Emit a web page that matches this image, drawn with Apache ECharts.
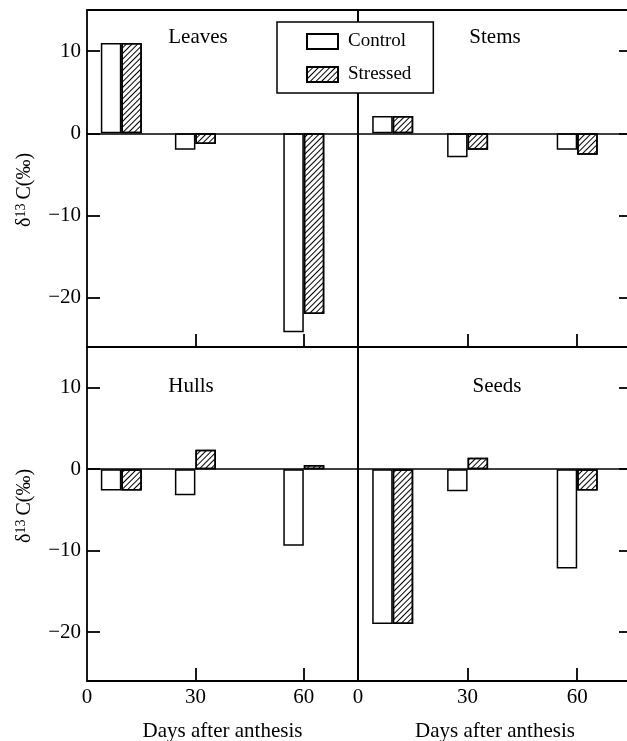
<!DOCTYPE html>
<html>
<head>
<meta charset="utf-8">
<script src="https://cdn.jsdelivr.net/npm/echarts@6/dist/echarts.min.js"></script>
<style>
  html, body { margin: 0; padding: 0; background: #fff; }
  #chart { width: 627px; height: 741px; }
</style>
</head>
<body>
<div id="chart"></div>
<script>
  // days after anthesis (first sampling drawn a little before day 10)
  const days = [9.5, 30, 60];
  // delta 13C, per organ
  const leavesControl = [11, -2.0, -24.2];
  const leavesStressed = [11, -1.3, -22.0];
  const stemsControl = [2.1, -2.9, -2.0];
  const stemsStressed = [2.1, -2.0, -2.6];
  const hullsControl = [-2.6, -3.2, -9.4];
  const hullsStressed = [-2.6, 2.4, 0.5];
  const seedsControl = [-19.0, -2.7, -12.2];
  const seedsStressed = [-19.0, 1.4, -2.6];

  const panelNames = ['Leaves', 'Stems', 'Hulls', 'Seeds'];
  const xLabels = [0, 30, 60];
  const xTickMarks = [30, 60];
  const yLabels = [-20, -10, 0, 10];

  const FONT = 'Liberation Serif';

  const controlData = [leavesControl, stemsControl, hullsControl, seedsControl];
  const stressedData = [leavesStressed, stemsStressed, hullsStressed, seedsStressed];

  let chart = echarts.init(document.getElementById('chart'));

  // 2x2 panels
  const grids = [
    {left: 87, top: 10, width: 271, height: 337},
    {left: 358, top: 10, width: 274, height: 337},
    {left: 87, top: 347, width: 271, height: 334},
    {left: 358, top: 347, width: 274, height: 334}
  ].map(g => Object.assign(g, {
    show: true, borderColor: '#000', borderWidth: 1.8, backgroundColor: 'transparent',
    containLabel: false, outerBoundsMode: 'none'
  }));

  const xAxes = [];
  const yAxes = [];
  const series = [];

  for (let i = 0; i < 4; i++) {
    const bottomRow = i >= 2;
    const rightCol = i % 2 === 1;
    xAxes.push({
      gridIndex: i,
      type: 'value',
      min: 0,
      max: 75,
      position: 'bottom',
      axisLine: {show: false, onZero: false},
      splitLine: {show: false},
      axisTick: {show: true, inside: true, length: 13, customValues: xTickMarks, lineStyle: {color: '#000', width: 1.8}},
      axisLabel: {
        show: bottomRow, customValues: xLabels, margin: 6,
        fontFamily: FONT, fontSize: 21, color: '#000'
      },
      name: bottomRow ? 'Days after anthesis' : '',
      nameLocation: 'middle',
      nameGap: 40,
      nameTextStyle: {fontFamily: FONT, fontSize: 21, color: '#000'}
    });
    yAxes.push({
      gridIndex: i,
      type: 'value',
      min: -26,
      max: 15,
      position: rightCol ? 'right' : 'left',
      axisLine: {show: false, onZero: false},
      splitLine: {show: false},
      axisTick: {show: true, inside: true, length: 13, customValues: yLabels, lineStyle: {color: '#000', width: 1.8}},
      axisLabel: {
        show: !rightCol, customValues: yLabels, margin: 6,
        fontFamily: FONT, fontSize: 21, color: '#000',
        formatter: v => (v < 0 ? '\u2212' + Math.abs(v) : String(v))
      }
    });
    series.push({
      name: 'Control',
      type: 'bar',
      xAxisIndex: i,
      yAxisIndex: i,
      barWidth: 20.5,
      barGap: '0%',
      itemStyle: {color: '#fff', borderColor: '#000', borderWidth: 1.5},
      data: days.map((d, k) => [d, controlData[i][k]]),
      markLine: {
        silent: true,
        symbol: ['none', 'none'],
        label: {show: false},
        lineStyle: {color: '#000', width: 1.6, type: 'solid'},
        data: [{yAxis: 0}]
      }
    });
    series.push({
      name: 'Stressed',
      type: 'bar',
      xAxisIndex: i,
      yAxisIndex: i,
      barWidth: 20.5,
      barGap: '0%',
      itemStyle: {
        color: '#fff', borderColor: '#000', borderWidth: 1.5,
        decal: {
          symbol: 'rect', symbolSize: 1, color: '#000',
          dashArrayX: [1, 0], dashArrayY: [0.8, 2.2],
          rotation: -Math.PI / 4
        }
      },
      data: days.map((d, k) => [d, stressedData[i][k]])
    });
  }

  // y axis titles with superscript, rotated
  const yTitle = (cy) => ({
    type: 'text',
    x: 25,
    y: cy,
    rotation: Math.PI / 2,
    style: {
      text: '{d|\u03b4}{s|13}{d|\u2009C(\u2030)}',
      align: 'center',
      verticalAlign: 'middle',
      fill: '#000',
      rich: {
        d: {fontFamily: FONT, fontSize: 20, lineHeight: 22, fill: '#000'},
        s: {fontFamily: FONT, fontSize: 14, lineHeight: 14, verticalAlign: 'top', fill: '#000'}
      }
    }
  });

  const panelText = (txt, x, y) => ({
    type: 'text', x: x, y: y,
    style: {text: txt, fontFamily: FONT, fontSize: 21, fill: '#000', align: 'center', verticalAlign: 'middle'}
  });

  chart.setOption({
    animation: false,
    backgroundColor: '#fff',
    grid: grids,
    xAxis: xAxes,
    yAxis: yAxes,
    legend: {
      data: ['Control', 'Stressed'],
      orient: 'vertical',
      left: 277,
      top: 22,
      padding: [10, 22, 9, 29],
      itemWidth: 31,
      itemHeight: 15,
      itemGap: 14,
      icon: 'rect',
      selectedMode: false,
      backgroundColor: '#fff',
      borderColor: '#000',
      borderWidth: 1.5,
      textStyle: {fontFamily: FONT, fontSize: 19, color: '#000', padding: [0, 0, 0, 5]}
    },
    graphic: [
      yTitle(190),
      yTitle(506),
      panelText(panelNames[0], 198, 37),
      panelText(panelNames[1], 495, 37),
      panelText(panelNames[2], 191, 386),
      panelText(panelNames[3], 497, 386)
    ],
    series: series
  });
</script>
</body>
</html>
